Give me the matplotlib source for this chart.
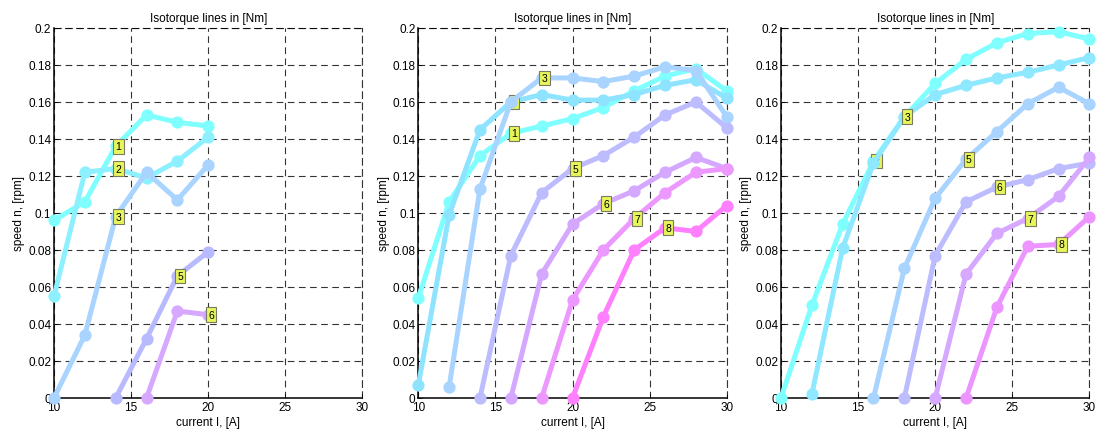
import matplotlib.pyplot as plt
import numpy as np
from matplotlib.ticker import FormatStrFormatter

plt.rcParams['font.family'] = ['Liberation Sans', 'DejaVu Sans']
plt.rcParams['font.size'] = 8.5

nan = np.nan

# current grid [A]
current = [10, 12, 14, 16, 18, 20, 22, 24, 26, 28, 30]

# panel 1: speed values per isotorque line
p1_n1 = [0.096, 0.106, 0.136, 0.153, 0.149, 0.147, nan, nan, nan, nan, nan]
p1_n2 = [0.055, 0.122, 0.124, 0.119, 0.128, 0.141, nan, nan, nan, nan, nan]
p1_n3 = [0.000, 0.034, 0.098, 0.122, 0.107, 0.126, nan, nan, nan, nan, nan]
p1_n5 = [nan, nan, 0.000, 0.032, 0.066, 0.079, nan, nan, nan, nan, nan]
p1_n6 = [nan, nan, nan, 0.000, 0.047, 0.045, nan, nan, nan, nan, nan]

# panel 2
p2_n1 = [0.054, 0.106, 0.131, 0.143, 0.147, 0.151, 0.157, 0.166, 0.174, 0.178, 0.166]
p2_n2 = [0.007, 0.099, 0.145, 0.160, 0.164, 0.161, 0.161, 0.164, 0.169, 0.172, 0.162]
p2_n3 = [nan, 0.006, 0.113, 0.160, 0.173, 0.173, 0.171, 0.174, 0.179, 0.177, 0.152]
p2_n5 = [nan, nan, 0.000, 0.077, 0.111, 0.124, 0.131, 0.141, 0.153, 0.160, 0.146]
p2_n6 = [nan, nan, nan, 0.000, 0.067, 0.094, 0.105, 0.112, 0.122, 0.130, 0.124]
p2_n7 = [nan, nan, nan, nan, 0.000, 0.053, 0.080, 0.097, 0.111, 0.122, 0.124]
p2_n8 = [nan, nan, nan, nan, nan, 0.000, 0.044, 0.080, 0.092, 0.090, 0.104]

# panel 3
p3_n2 = [0.000, 0.050, 0.094, 0.128, 0.152, 0.170, 0.183, 0.192, 0.197, 0.198, 0.194]
p3_n3 = [nan, 0.002, 0.081, 0.127, 0.152, 0.164, 0.169, 0.173, 0.176, 0.180, 0.184]
p3_n5 = [nan, nan, nan, 0.000, 0.070, 0.108, 0.129, 0.144, 0.159, 0.168, 0.159]
p3_n6 = [nan, nan, nan, nan, 0.000, 0.077, 0.106, 0.114, 0.118, 0.124, 0.127]
p3_n7 = [nan, nan, nan, nan, nan, 0.000, 0.067, 0.089, 0.097, 0.109, 0.130]
p3_n8 = [nan, nan, nan, nan, nan, nan, 0.000, 0.049, 0.082, 0.083, 0.098]

# (label, speeds, colour, current where label sits)
panels = [
    [("1", p1_n1, "#80ffff", 14), ("2", p1_n2, "#8cf0ff", 14), ("3", p1_n3, "#a8d4ff", 14),
     ("5", p1_n5, "#b8baff", 18), ("6", p1_n6, "#d6a8ff", 20)],
    [("1", p2_n1, "#80ffff", 16), ("2", p2_n2, "#8ee4ff", 16), ("3", p2_n3, "#a8d4ff", 18),
     ("5", p2_n5, "#bcbcff", 20), ("6", p2_n6, "#d4a8ff", 22), ("7", p2_n7, "#ec98ff", 24),
     ("8", p2_n8, "#ff80ff", 26)],
    [("2", p3_n2, "#80ffff", 16), ("3", p3_n3, "#8ee8ff", 18), ("5", p3_n5, "#a8d4ff", 22),
     ("6", p3_n6, "#bcbcff", 24), ("7", p3_n7, "#d6a8ff", 26), ("8", p3_n8, "#ec94ff", 28)],
]

fig = plt.figure(figsize=(10.97, 4.35), dpi=100)
lefts = [0.0492, 0.3813, 0.7119]
dash = (0, (6, 4))

for left, lines in zip(lefts, panels):
    ax = fig.add_axes([left, 0.0828, 0.2812, 0.8506])
    ax.set_xlim(10, 30)
    ax.set_ylim(0, 0.2)
    ax.set_xticks([10, 15, 20, 25, 30])
    ax.set_yticks(np.arange(0, 0.201, 0.02))
    ax.yaxis.set_major_formatter(FormatStrFormatter('%g'))
    ax.grid(True, color='k', linestyle=dash, linewidth=0.8, alpha=0.8)
    ax.set_axisbelow(True)
    for s in ['top', 'right']:
        ax.spines[s].set_linestyle(dash)
        ax.spines[s].set_linewidth(0.8)
        ax.spines[s].set_alpha(0.8)
    for s in ['left', 'bottom']:
        ax.spines[s].set_linewidth(1.1)
    ax.tick_params(direction='in', length=3, width=0.6, pad=2, labelsize=8.5)

    z = 3
    for lab, vals, col, at in lines:
        ax.plot(current, vals, '-o', color=col, lw=3.6, ms=5.2, mew=3.6,
                mfc='none', mec=col, clip_on=False, zorder=z)
        k = current.index(at)
        ax.text(at, vals[k], lab, ha='left', va='center', fontsize=7.5, zorder=z + 1,
                bbox=dict(boxstyle='square,pad=0.22', fc='#e6f55a', ec='#7a7a60', lw=0.8))
        z += 2

    ax.set_title('Isotorque lines in [Nm]', fontsize=8.5, pad=5)
    ax.set_xlabel('current I, [A]', fontsize=8.5, labelpad=2)
    ax.set_ylabel('speed n, [rpm]', fontsize=8.5, labelpad=2)

fig.savefig('out.png', dpi=100)
